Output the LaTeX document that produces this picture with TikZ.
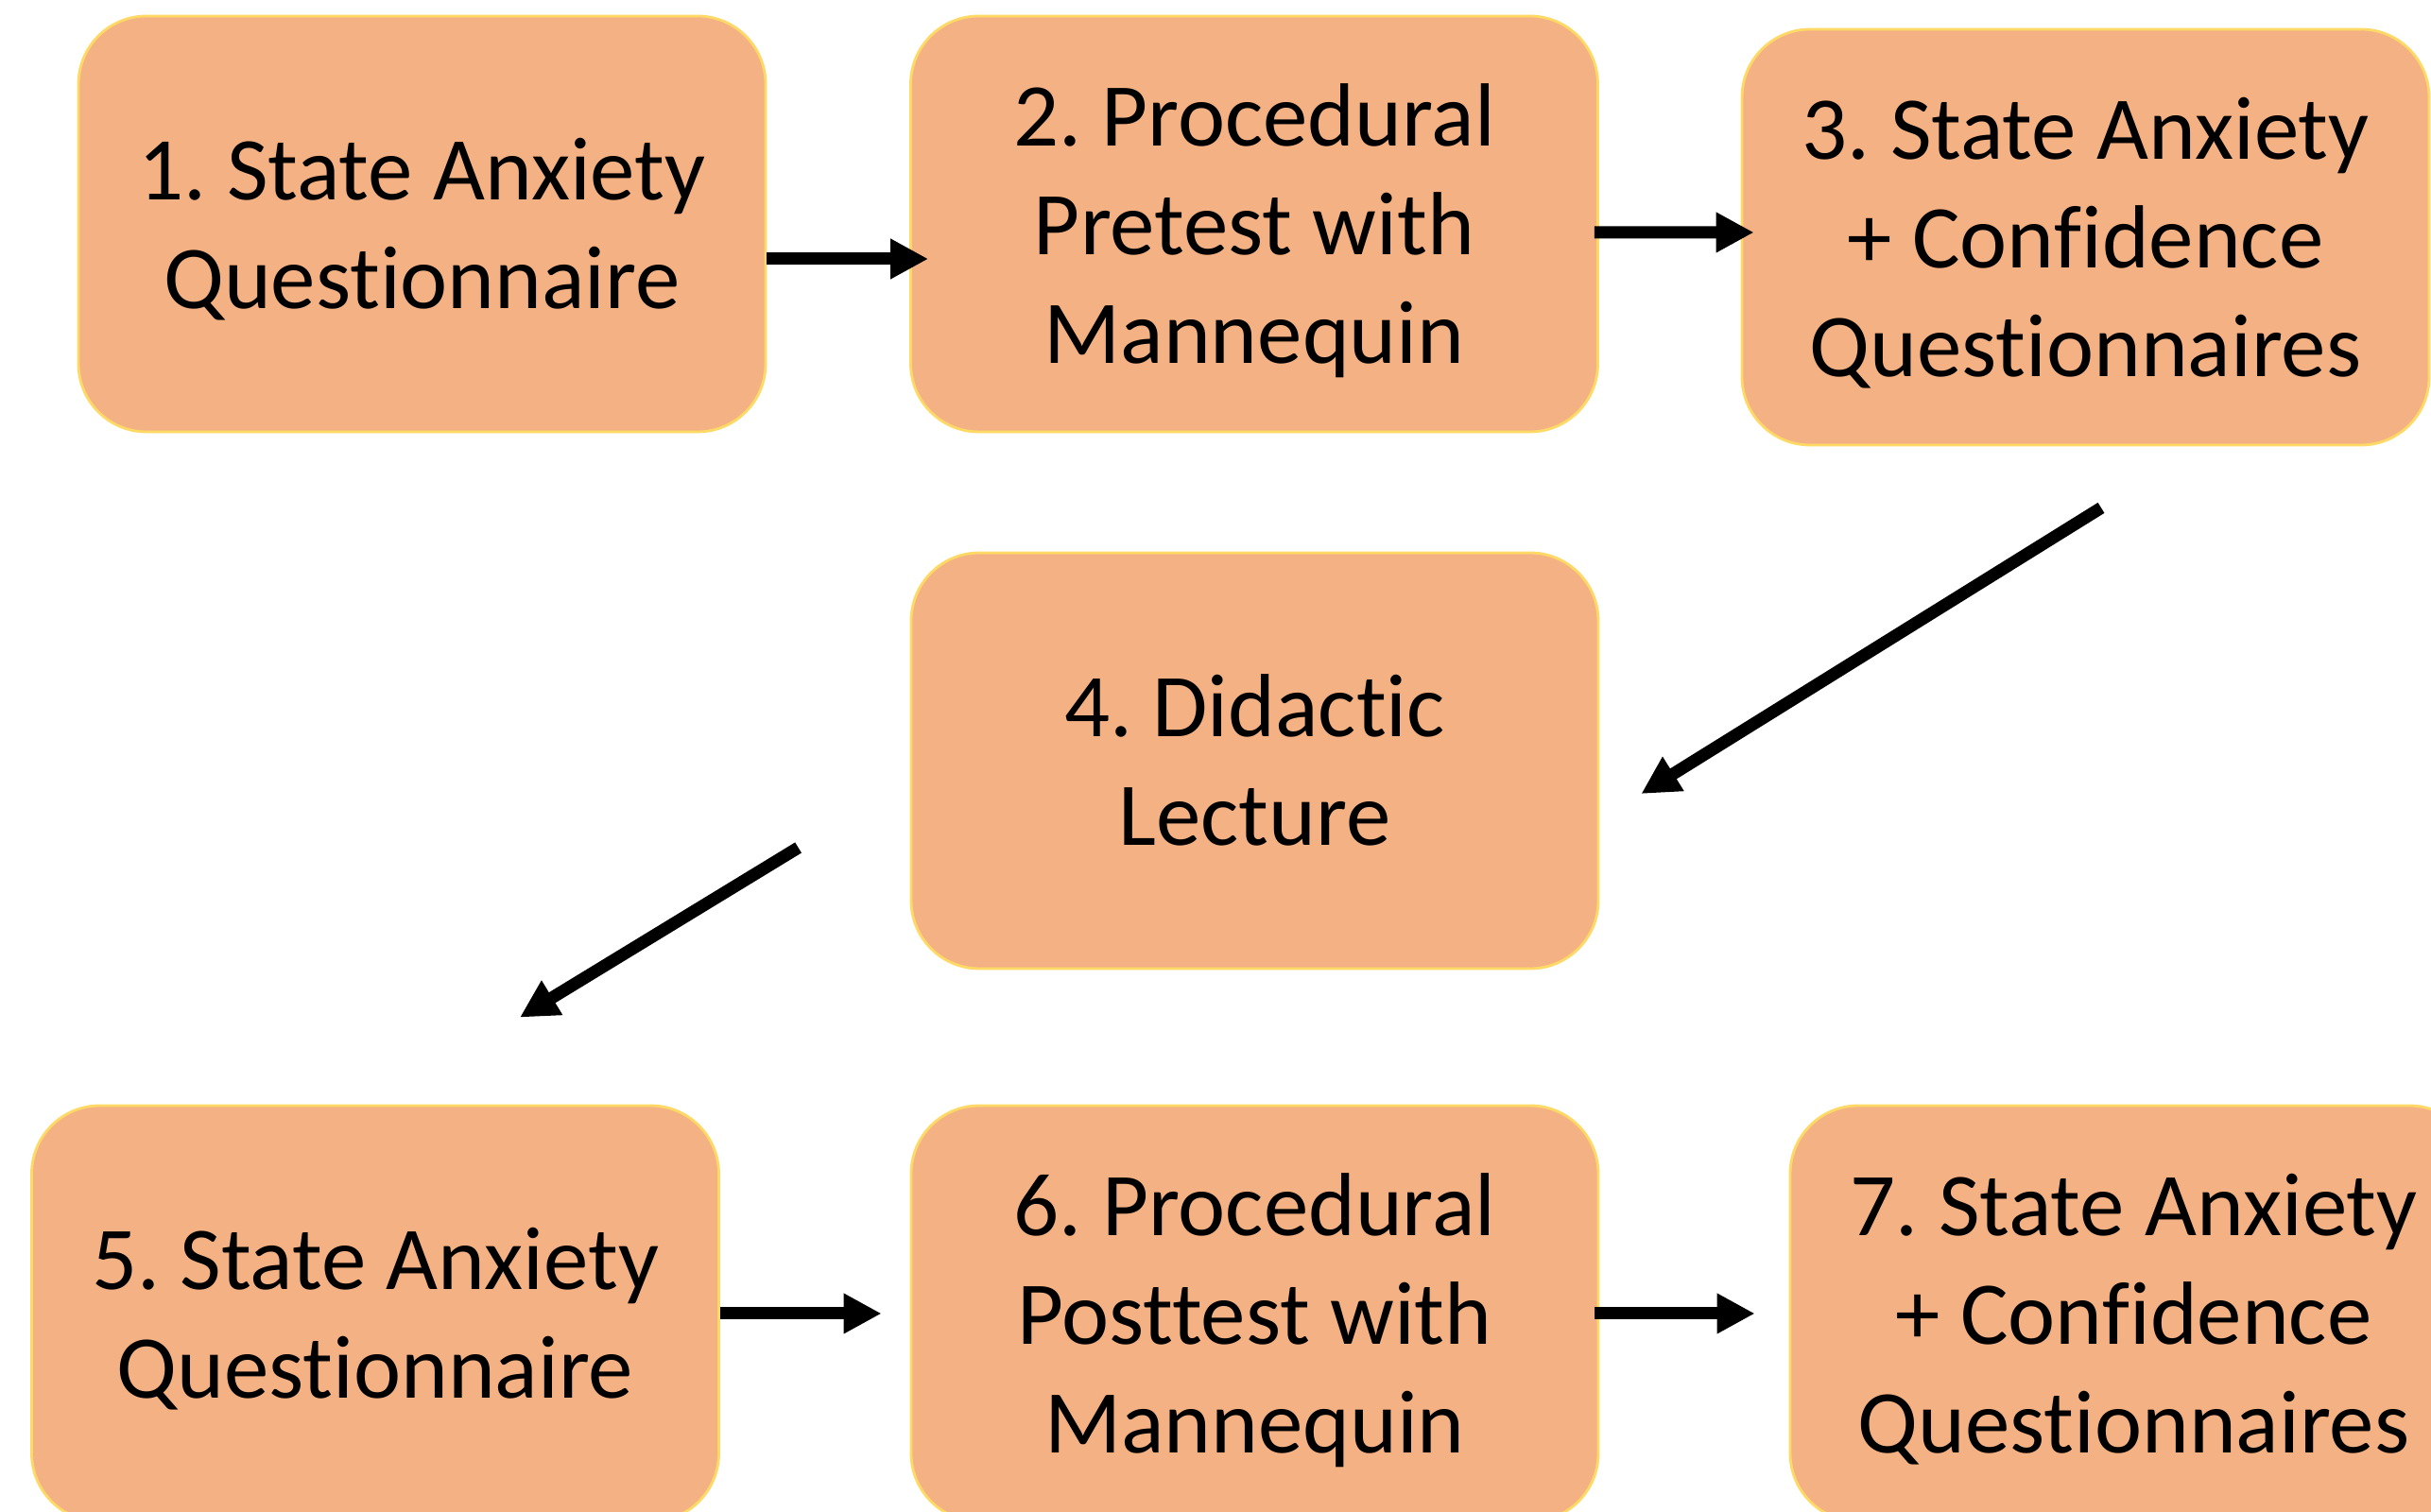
\documentclass[tikz,border=0pt]{standalone}
\usepackage{fontspec}
\setmainfont{Carlito}[Ligatures={NoCommon,NoContextual}]
\usetikzlibrary{arrows.meta}
\definecolor{saumon}{HTML}{F4B183}
\definecolor{bordor}{HTML}{FFD966}
\frenchspacing

\begin{document}
\begin{tikzpicture}[x=1cm, y=1cm,
  etape/.style={rectangle, rounded corners=0.72cm, draw=bordor, line width=0.8pt,
    fill=saumon, minimum width=7.27cm, minimum height=4.4cm, align=center,
    font=\fontsize{27}{32.7}\selectfont, text height=#1, text depth=7.26pt},
  etape/.default=91.1pt,
  fleche/.style={-{Triangle[length=0.4cm, width=0.4cm]}, line width=0.13cm}]

% Le cadre de la figure
\clip (0,0) rectangle (25.72,16);

% Les étapes du haut
\node[etape=58.4pt] (B1) at (4.465,13.63) {1. State Anxiety\\Questionnaire};
\node[etape] (B2) at (13.27,13.63) {2. Procedural\\Pretest with\\Mannequin};
\node[etape] (B3) at (22.065,13.49) {3. State Anxiety\\+ Confidence\\Questionnaires};

% L'étape du milieu
\node[etape=58.4pt] (B4) at (13.275,7.95) {4. Didactic\\Lecture};

% Les étapes du bas
\node[etape=58.4pt] (B5) at (3.97,2.10) {5. State Anxiety\\Questionnaire};
\node[etape] (B6) at (13.275,2.10) {6. Procedural\\Posttest with\\Mannequin};
\node[etape] (B7) at (22.575,2.10) {7. State Anxiety\\+ Confidence\\Questionnaires};

% Les flèches entre les étapes
\draw[fleche] ([yshift=-0.37cm]B1.east) -- ([xshift=0.2cm, yshift=-0.37cm]B2.west);
\draw[fleche] ([xshift=-0.05cm, yshift=-0.09cm]B2.east) -- ([xshift=0.14cm, yshift=0.05cm]B3.west);
\draw[fleche] ([xshift=0.165cm, yshift=-0.65cm]B3.south) -- ([xshift=0.44cm, yshift=-0.35cm]B4.east);
\draw[fleche] ([xshift=-1.18cm, yshift=-0.92cm]B4.west) -- ([xshift=1.53cm, yshift=0.92cm]B5.north);
\draw[fleche] (B5.east) -- ([xshift=-0.30cm]B6.west);
\draw[fleche] ([xshift=-0.05cm]B6.east) -- ([xshift=-0.36cm]B7.west);

\end{tikzpicture}
\end{document}
